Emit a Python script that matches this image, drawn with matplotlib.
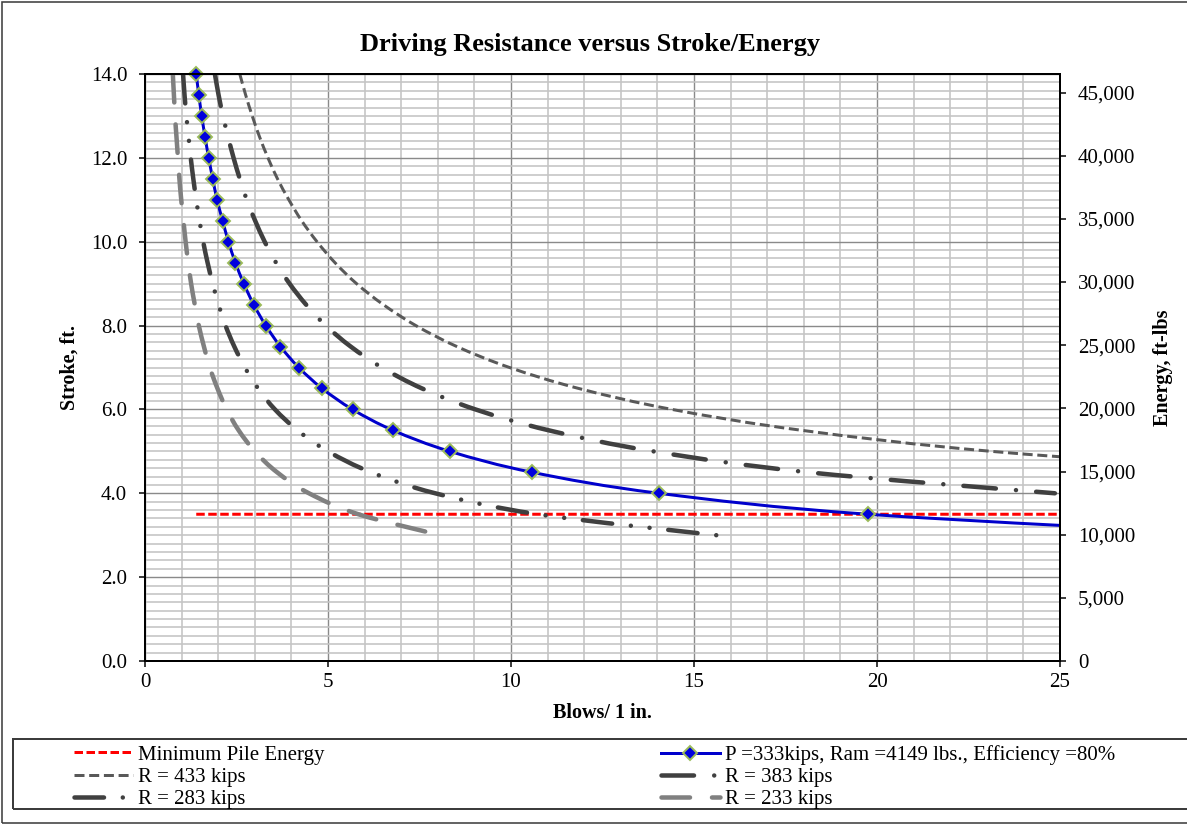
import numpy as np
import matplotlib
matplotlib.use("Agg")
import matplotlib.pyplot as plt
from matplotlib.path import Path
from matplotlib.patches import PathPatch, Rectangle
from matplotlib.lines import Line2D
from matplotlib.ticker import MultipleLocator, FuncFormatter

plt.rcParams["font.family"] = ["Liberation Serif", "DejaVu Serif"]
plt.rcParams["lines.scale_dashes"] = False

# ---------------------------------------------------------------- data
stroke_ft = [14.0, 13.5, 13.0, 12.5, 12.0, 11.5, 11.0, 10.5, 10.0, 9.5, 9.0, 8.5,
             8.0, 7.5, 7.0, 6.5, 6.0, 5.5, 5.0, 4.5, 4.0, 3.5, 3.0]

# blows per inch for each stroke
blows_p333 = [1.40, 1.47, 1.55, 1.64, 1.74, 1.85, 1.97, 2.12, 2.28, 2.47, 2.70, 2.97,
              3.30, 3.70, 4.20, 4.84, 5.67, 6.78, 8.33, 10.58, 14.04, 19.75, 30.17]
blows_r433 = [2.59, 2.75, 2.93, 3.13, 3.36, 3.62, 3.93, 4.28, 4.70, 5.19, 5.78, 6.51,
              7.40, 8.52, 9.96, 11.85, 14.40, 17.96, 23.13, 31.06]
blows_r383 = [1.91, 2.01, 2.13, 2.27, 2.42, 2.59, 2.78, 3.01, 3.27, 3.58, 3.95, 4.40,
              4.94, 5.62, 6.47, 7.57, 9.03, 11.04, 13.89, 18.13, 24.86]
blows_r283 = [1.04, 1.08, 1.13, 1.19, 1.25, 1.32, 1.40, 1.49, 1.59, 1.71, 1.85, 2.01,
              2.20, 2.44, 2.73, 3.09, 3.55, 4.17, 5.00, 6.18, 7.93, 10.73, 15.61]
blows_r233 = [0.76, 0.79, 0.82, 0.86, 0.90, 0.94, 0.99, 1.05, 1.11, 1.18, 1.26, 1.36,
              1.47, 1.61, 1.77, 1.98, 2.23, 2.56, 3.00, 3.61, 4.48, 5.83, 8.07]

min_energy_blows = [1.40, 30.17]
min_energy_stroke = [3.5, 3.5]

RAM_WEIGHT_LBS = 4149
EFFICIENCY = 0.80
X_MAX, Y_MAX = 25, 14.0

labels = {
    "min": "Minimum Pile Energy",
    "p": "P =333kips, Ram =4149 lbs., Efficiency =80%",
    "r433": "R = 433 kips",
    "r383": "R = 383 kips",
    "r283": "R = 283 kips",
    "r233": "R = 233 kips",
}

# ---------------------------------------------------------------- layout helpers
W, H = 1187, 836
PX = 72.0 / 100.0          # points per pixel
TICK_FS = 15


def fx(x):
    return x / W


def fy(y):
    return 1 - y / H


def smooth_path(xs, ys):
    """Cubic Bezier path through the points (smoothed line)."""
    pts = np.column_stack([xs, ys]).astype(float)
    n = len(pts)
    verts = [pts[0]]
    codes = [Path.MOVETO]
    for i in range(n - 1):
        p0 = pts[max(i - 1, 0)]
        p1 = pts[i]
        p2 = pts[i + 1]
        p3 = pts[min(i + 2, n - 1)]
        verts += [p1 + (p2 - p0) / 6.0, p2 - (p3 - p1) / 6.0, p2]
        codes += [Path.CURVE4] * 3
    return Path(verts, codes)


fig = plt.figure(figsize=(W / 100, H / 100), dpi=100)
ax = fig.add_axes([fx(145), fy(661), fx(1060) - fx(145), fy(74) - fy(661)])


def add_curve(xs, ys, color, lw_px, dashes_px, cap, z):
    ls = (0, [d * PX for d in dashes_px]) if dashes_px else "-"
    patch = PathPatch(smooth_path(xs, ys), fill=False, edgecolor=color,
                      linewidth=lw_px * PX, linestyle=ls, capstyle=cap,
                      joinstyle="round", zorder=z)
    ax.add_patch(patch)
    return Line2D([], [], color=color, linewidth=lw_px * PX, linestyle=ls,
                  dash_capstyle=cap, solid_capstyle=cap)


# ---------------------------------------------------------------- curves
h_min = add_curve(min_energy_blows, min_energy_stroke, "#ff0000", 3.0,
                  [8.5, 3.5], "butt", 3)
h_433 = add_curve(blows_r433, stroke_ft[:len(blows_r433)], "#595959", 3.0,
                  [10, 4.7], "butt", 4)
h_383 = add_curve(blows_r383, stroke_ft[:len(blows_r383)], "#404040", 4.5,
                  [32.5, 20.2, 0.01, 20.2], "round", 4)
h_283 = add_curve(blows_r283, stroke_ft[:len(blows_r283)], "#404040", 4.5,
                  [29.5, 18.8, 0.01, 18.8, 0.01, 18.8], "round", 4)
h_233 = add_curve(blows_r233, stroke_ft[:len(blows_r233)], "#808080", 4.5,
                  [28.5, 22.0], "round", 4)
add_curve(blows_p333, stroke_ft, "#0000cc", 3.0, None, "round", 5)

marker_style = dict(marker="D", markersize=7.6, markerfacecolor="#0000dd",
                    markeredgecolor="#9bbb59", markeredgewidth=1.4)
inside = [(b, s) for b, s in zip(blows_p333, stroke_ft) if b <= X_MAX]
ax.plot([b for b, _ in inside], [s for _, s in inside], linestyle="none",
        clip_on=False, zorder=6, **marker_style)
h_p = Line2D([], [], color="#0000cc", linewidth=3.0 * PX, **marker_style)

# ---------------------------------------------------------------- axes
ax.set_xlim(0, X_MAX)
ax.set_ylim(0, Y_MAX)
ax.xaxis.set_major_locator(MultipleLocator(5))
ax.xaxis.set_minor_locator(MultipleLocator(1))
ax.yaxis.set_major_locator(MultipleLocator(2))
ax.yaxis.set_minor_locator(MultipleLocator(0.2))
ax.yaxis.set_major_formatter(FuncFormatter(lambda v, _: f"{v:.1f}"))
ax.grid(which="minor", color="#c4c4c4", linewidth=1.6 * PX)
ax.grid(which="major", color="#8a8a8a", linewidth=1.4 * PX)
ax.set_axisbelow(True)
ax.tick_params(which="minor", length=0)
ax.tick_params(axis="y", which="major", direction="out", length=6 * PX,
               width=1.5 * PX, labelsize=TICK_FS, pad=8.5)
ax.tick_params(axis="x", which="major", direction="out", length=6 * PX,
               width=1.5 * PX, labelsize=TICK_FS, pad=4.5)
for sp in ax.spines.values():
    sp.set_linewidth(2.0 * PX)
    sp.set_color("black")

ax2 = ax.twinx()
ax2.set_ylim(0, Y_MAX * RAM_WEIGHT_LBS * EFFICIENCY)
ax2.yaxis.set_major_locator(MultipleLocator(5000))
ax2.yaxis.set_major_formatter(FuncFormatter(lambda v, _: f"{v:,.0f}"))
ax2.tick_params(axis="y", direction="out", length=6 * PX, width=1.5 * PX,
                labelsize=TICK_FS, pad=8.5)
for sp in ax2.spines.values():
    sp.set_linewidth(2.0 * PX)
    sp.set_color("black")

ax.set_xlabel("Blows/ 1 in.", fontsize=14.5, fontweight="bold", va="center")
ax.xaxis.set_label_coords(0.5, (661 - 713) / 587)
ax.set_ylabel("Stroke, ft.", fontsize=14.5, fontweight="bold", va="center", ha="center")
ax.yaxis.set_label_coords((70 - 145) / 915, 0.5)
ax2.set_ylabel("Energy, ft-lbs", fontsize=14.5, fontweight="bold", va="center", ha="center")
ax2.yaxis.set_label_coords((1163 - 145) / 915, 0.5)

fig.text(fx(590), fy(44), "Driving Resistance versus Stroke/Energy",
         ha="center", va="center", fontsize=19, fontweight="bold")

# ---------------------------------------------------------------- legend
legend_kw = dict(loc="upper left", frameon=False, fontsize=15, handlelength=2.83,
                 handletextpad=0.24, labelspacing=0.13, borderpad=0,
                 borderaxespad=0)
leg1 = fig.legend([h_min, h_433, h_283],
                  [labels["min"], labels["r433"], labels["r283"]],
                  bbox_to_anchor=(fx(74), fy(745)), **legend_kw)
leg2 = fig.legend([h_p, h_383, h_233],
                  [labels["p"], labels["r383"], labels["r233"]],
                  bbox_to_anchor=(fx(661), fy(745)), **legend_kw)

fig.add_artist(Rectangle((fx(13), fy(809)), fx(1200) - fx(13), fy(739) - fy(809),
                         transform=fig.transFigure, fill=False,
                         edgecolor="#3c3c3c", linewidth=2.0 * PX))
fig.add_artist(Rectangle((fx(2), fy(823)), fx(1200) - fx(2), fy(2) - fy(823),
                         transform=fig.transFigure, fill=False,
                         edgecolor="#404040", linewidth=1.6 * PX))

fig.savefig("out.png", dpi=100)
